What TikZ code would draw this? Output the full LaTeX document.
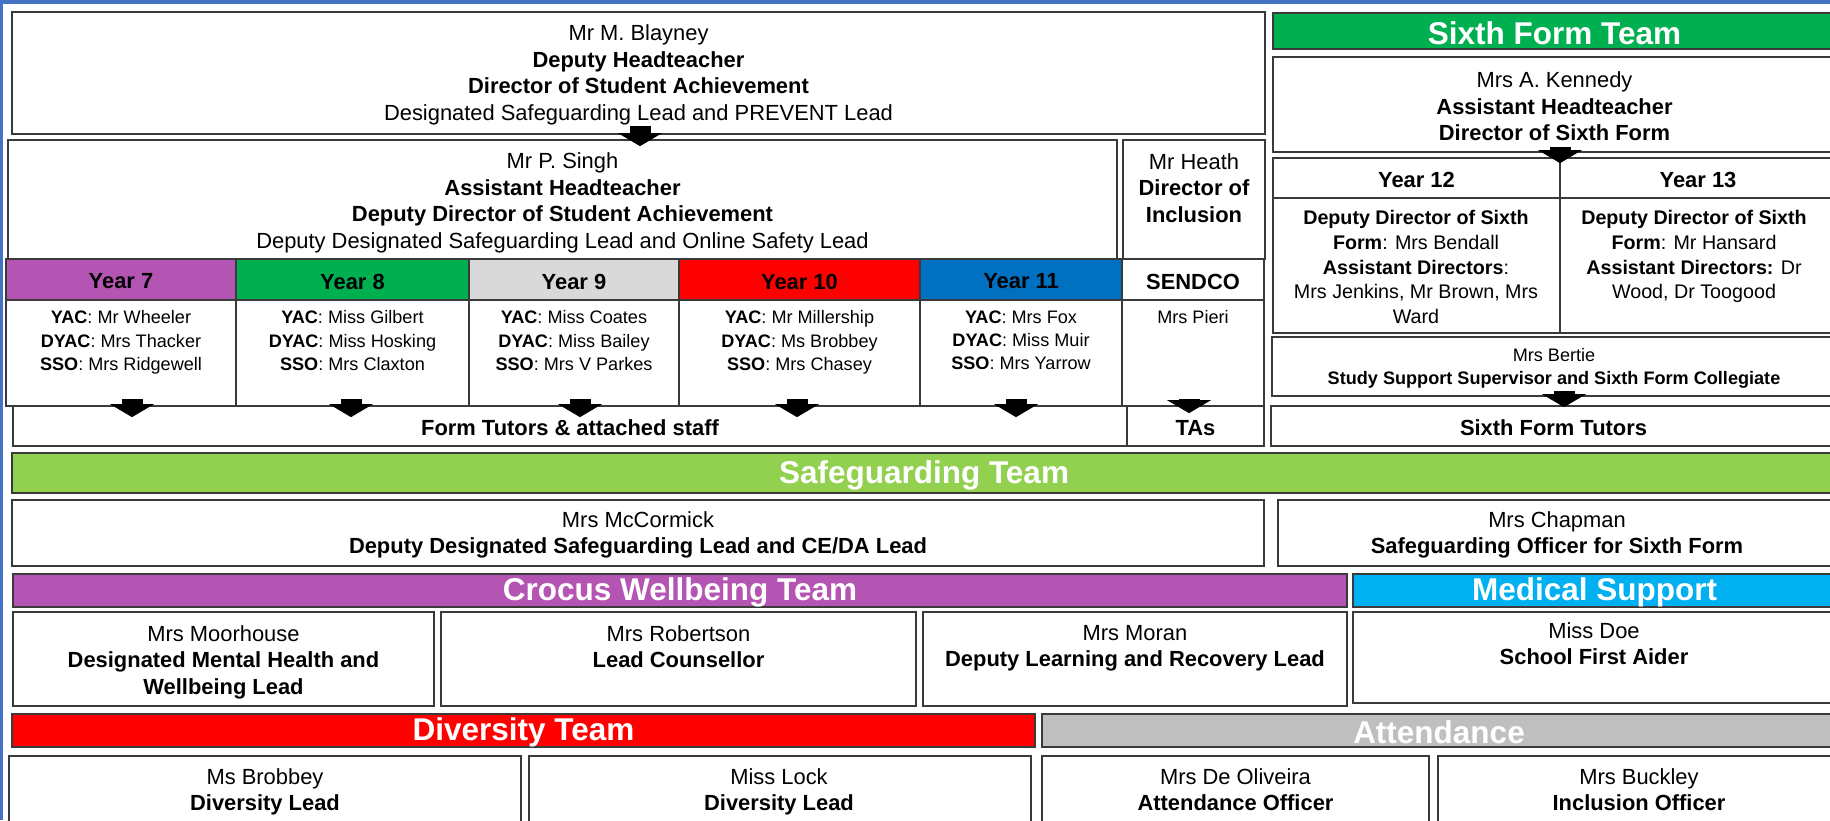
\documentclass[tikz,border=0pt]{standalone}
\usepackage{fontspec}
\setmainfont{Liberation Sans}
\usetikzlibrary{fit,calc,arrows.meta}
\definecolor{frameblue}{HTML}{4472C4}
\definecolor{linegray}{HTML}{3A3A3A}
\definecolor{ypurple}{HTML}{B455B4}
\definecolor{ygreen}{HTML}{00B050}
\definecolor{ygray}{HTML}{D9D9D9}
\definecolor{yred}{HTML}{FF0000}
\definecolor{yblue}{HTML}{0070C0}
\definecolor{sgreen}{HTML}{92D050}
\definecolor{medblue}{HTML}{00B0F0}
\definecolor{attgray}{HTML}{BFBFBF}
\newcommand\mainfs{\fontsize{21.9}{26.5}\selectfont}
\newcommand\smallfs{\fontsize{18.1}{23.3}\selectfont}
\newcommand\sixfs{\fontsize{19.7}{24.8}\selectfont}
\newcommand\barfs{\fontsize{31.5}{36}\selectfont\bfseries}
\newcommand\obox[7][]{\node[bx,#1,fit={(#3,#4) (#5,#6)}] (#2) {};
  \node[bx,#1,btxt] (#2t) at (#2.center) {#7};}
\begin{document}
\begin{tikzpicture}[x=1pt,y=-1pt,
  bx/.style={draw=linegray,line width=1.7pt,inner sep=0pt,fill=white,align=center,font=\mainfs,text=black},
  btxt/.style={draw=none,fill=none,inner sep=0pt,anchor=center,yshift=-2pt},
  bar/.style={text=white,font=\barfs},
  tl/.style={anchor=north,inner sep=0pt,align=center,font=\mainfs,text=black},
  barrow/.style={draw=black,line width=21pt,-{Triangle[width=44pt,length=13pt,line width=0pt]}}]
\useasboundingbox (0,0) rectangle (1830,820);
\clip (0,0) rectangle (1830,820);
\fill[white] (0,0) rectangle (1830,820);
\fill[frameblue] (0,0) rectangle (1830,4);
\fill[frameblue] (0,0) rectangle (3,820);

% ---- Student achievement block
\obox{blayney}{12}{12}{1265}{134}{Mr M. Blayney\\\textbf{Deputy Headteacher}\\\textbf{Director of Student Achievement}\\Designated Safeguarding Lead and PREVENT Lead}
\obox[btxt/.append style={yshift=-1.5pt}]{singh}{8}{140}{1117}{259}{Mr P. Singh\\\textbf{Assistant Headteacher}\\\textbf{Deputy Director of Student Achievement}\\Deputy Designated Safeguarding Lead and Online Safety Lead}
\obox{heath}{1123}{140}{1265}{259}{}
\node[tl] (heathtxt) at (1194,153) {Mr Heath\\\textbf{Director of}\\\textbf{Inclusion}};

% year headers
\obox[fill=ypurple,font=\mainfs\bfseries]{y7h}{6}{259}{236}{300}{Year 7}
\obox[fill=ygreen,font=\mainfs\bfseries]{y8h}{236}{259}{469}{300}{Year 8}
\obox[fill=ygray,font=\mainfs\bfseries]{y9h}{469}{259}{679}{300}{Year 9}
\obox[fill=yred,font=\mainfs\bfseries]{y10h}{679}{259}{920}{300}{Year 10}
\obox[fill=yblue,font=\mainfs\bfseries]{y11h}{920}{259}{1122}{300}{Year 11}
\obox[font=\mainfs\bfseries]{sendh}{1122}{259}{1264}{300}{SENDCO}

% year contents
\obox{y7c}{6}{300}{236}{406}{}
\obox{y8c}{236}{300}{469}{406}{}
\obox{y9c}{469}{300}{679}{406}{}
\obox{y10c}{679}{300}{920}{406}{}
\obox{y11c}{920}{300}{1122}{406}{}
\obox{sendc}{1122}{300}{1264}{406}{}
\node[tl,font=\smallfs] (y7tx) at (121,310.5) {\textbf{YAC}: Mr Wheeler\\\textbf{DYAC}: Mrs Thacker\\\textbf{SSO}: Mrs Ridgewell};
\node[tl,font=\smallfs] (y8tx) at (352.5,310.5) {\textbf{YAC}: Miss Gilbert\\\textbf{DYAC}: Miss Hosking\\\textbf{SSO}: Mrs Claxton};
\node[tl,font=\smallfs] (y9tx) at (574,310.5) {\textbf{YAC}: Miss Coates\\\textbf{DYAC}: Miss Bailey\\\textbf{SSO}: Mrs V Parkes};
\node[tl,font=\smallfs] (y10tx) at (799.5,310.5) {\textbf{YAC}: Mr Millership\\\textbf{DYAC}: Ms Brobbey\\\textbf{SSO}: Mrs Chasey};
\node[tl,font=\smallfs] (y11tx) at (1021,310.5) {\textbf{YAC}: Mrs Fox\\\textbf{DYAC}: Miss Muir\\\textbf{SSO}: Mrs Yarrow};
\node[tl,font=\smallfs] (sendtx) at (1193,310.5) {Mrs Pieri};

\obox[font=\mainfs\bfseries]{tutors}{13}{406}{1127}{446}{Form Tutors \& attached staff}
\obox[font=\mainfs\bfseries]{tas}{1127}{406}{1264}{446}{TAs}

% ---- Sixth form block
\obox[fill=ygreen,bar]{sixbar}{1273}{13}{1836}{49}{Sixth Form Team}
\obox{kennedy}{1273}{57}{1836}{152}{Mrs A. Kennedy\\\textbf{Assistant Headteacher}\\\textbf{Director of Sixth Form}}
\obox[font=\mainfs\bfseries]{y12h}{1273}{158}{1560}{198}{Year 12}
\obox[font=\mainfs\bfseries]{y13h}{1560}{158}{1836}{198}{Year 13}
\obox{y12c}{1273}{198}{1560}{333}{}
\obox{y13c}{1560}{198}{1836}{333}{}
\node[tl,font=\sixfs] (y12tx) at (1416,210) {\textbf{Deputy Director of Sixth}\\\textbf{Form}: Mrs Bendall\\\textbf{Assistant Directors}:\\Mrs Jenkins, Mr Brown, Mrs\\Ward};
\node[tl,font=\sixfs] (y13tx) at (1694,210) {\textbf{Deputy Director of Sixth}\\\textbf{Form}: Mr Hansard\\\textbf{Assistant Directors:} Dr\\Wood, Dr Toogood};
\obox[font=\smallfs]{bertie}{1272}{337}{1836}{396}{Mrs Bertie\\\textbf{Study Support Supervisor and Sixth Form Collegiate}}
\obox[font=\mainfs\bfseries]{sftutors}{1271}{406}{1836}{446}{Sixth Form Tutors}

% ---- Safeguarding
\obox[fill=sgreen,bar]{safebar}{12}{453}{1836}{493}{Safeguarding Team}
\obox{mccormick}{12}{500}{1264}{566}{Mrs McCormick\\\textbf{Deputy Designated Safeguarding Lead and CE/DA Lead}}
\obox{chapman}{1278}{500}{1836}{566}{Mrs Chapman\\\textbf{Safeguarding Officer for Sixth Form}}

% ---- Crocus / Medical
\obox[fill=ypurple,bar]{crocusbar}{13}{574}{1347}{607}{Crocus Wellbeing Team}
\obox[fill=medblue,bar]{medbar}{1353}{574}{1836}{607}{Medical Support}
\obox{moorhouse}{13}{612}{434}{706}{}
\obox{robertson}{441}{612}{916}{706}{}
\obox{moran}{923}{612}{1347}{706}{}
\obox{doe}{1353}{612}{1836}{703}{}
\node[tl] (moorhousetx) at (223.5,625) {Mrs Moorhouse\\\textbf{Designated Mental Health and}\\\textbf{Wellbeing Lead}};
\node[tl] (robertsontx) at (678.5,625) {Mrs Robertson\\\textbf{Lead Counsellor}};
\node[tl] (morantx) at (1135,625) {Mrs Moran\\\textbf{Deputy Learning and Recovery Lead}};
\node[tl] (doetx) at (1594,622) {Miss Doe\\\textbf{School First Aider}};

% ---- Diversity / Attendance
\obox[fill=yred,bar]{divbar}{12}{714}{1035}{747}{Diversity Team}
\obox[fill=attgray,bar]{attbar}{1042}{714}{1836}{747}{Attendance}
\obox{brobbey}{9}{756}{521}{840}{}
\obox{lock}{529}{756}{1031}{840}{}
\obox{oliveira}{1042}{756}{1429}{840}{}
\obox{buckley}{1438}{756}{1836}{840}{}
\node[tl] (brobbeytx) at (265,768) {Ms Brobbey\\\textbf{Diversity Lead}};
\node[tl] (locktx) at (779,768) {Miss Lock\\\textbf{Diversity Lead}};
\node[tl] (oliveiratx) at (1235.5,768) {Mrs De Oliveira\\\textbf{Attendance Officer}};
\node[tl] (buckleytx) at (1639,768) {Mrs Buckley\\\textbf{Inclusion Officer}};

% ---- arrows
\draw[barrow] ($(blayney.south)+(1.5,-9)$) -- ($(blayney.south |- singh.north)+(1.5,7)$);
\draw[barrow] ($(y7c.south)+(11,-8)$) -- ($(y7c.south |- tutors.north)+(11,12)$);
\draw[barrow] ($(y8c.south)+(-1.5,-8)$) -- ($(y8c.south |- tutors.north)+(-1.5,12)$);
\draw[barrow] ($(y9c.south)+(6,-8)$) -- ($(y9c.south |- tutors.north)+(6,12)$);
\draw[barrow] ($(y10c.south)+(-2.5,-8)$) -- ($(y10c.south |- tutors.north)+(-2.5,12)$);
\draw[barrow] ($(y11c.south)+(-5,-8)$) -- ($(y11c.south |- tutors.north)+(-5,12)$);
\draw[barrow] ($(sendc.south)+(-4,-8)$) -- ($(sendc.south |- tas.north)+(-4,8)$);
\draw[barrow] ($(kennedy.south)+(5.5,-6)$) -- ($(kennedy.south |- y12h.north)+(5.5,6)$);
\draw[barrow] ($(bertie.south)+(10,-6)$) -- ($(bertie.south |- sftutors.north)+(10,2)$);
\end{tikzpicture}
\end{document}
